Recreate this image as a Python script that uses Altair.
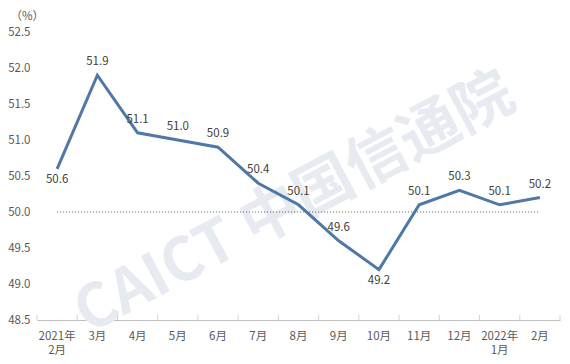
import altair as alt
import pandas as pd

months = ["2021年\n2月", "3月", "4月", "5月", "6月", "7月", "8月", "9月",
          "10月", "11月", "12月", "2022年\n1月", "2月"]
values = [50.6, 51.9, 51.1, 51.0, 50.9, 50.4, 50.1, 49.6, 49.2, 50.1, 50.3, 50.1, 50.2]
y_ticks = [48.5, 49.0, 49.5, 50.0, 50.5, 51.0, 51.5, 52.0, 52.5]
threshold = 50.0

df = pd.DataFrame({"month": months, "value": values})
below_months = [months[0], months[8]]

FONT = "Noto Sans CJK SC"
LINE = "#4f77a7"
TXT = "#404040"
AX = "#595959"

xscale = alt.Scale(type="band", domain=months, paddingInner=0, paddingOuter=0)
yscale = alt.Scale(domain=[48.5, 52.5], nice=False, zero=False)

x_axis = alt.Axis(title=None, labelAngle=0, ticks=False,
                  domainColor="#bfbfbf", labelColor=AX, labelFont=FONT,
                  labelFontSize=11.5, labelPadding=10, labelLineHeight=14,
                  labelBaseline="top", labelOverlap=False,
                  labelExpr="split(datum.label, '\\n')", grid=False)
y_axis = alt.Axis(values=y_ticks, format=".1f", domain=False, ticks=False,
                  grid=False, labelColor=AX, labelFont=FONT, labelFontSize=11.5,
                  labelPadding=7, labelOverlap=False, labelFlush=False,
                  title="（%）", titleAngle=0, titleAlign="left",
                  titleX=-27, titleY=-16, titleBaseline="middle",
                  titleFont=FONT, titleFontSize=11.5, titleFontWeight="normal",
                  titleColor=AX)


def X(band=None):
    if band is None:
        return alt.X("month:N", scale=xscale, sort=months, axis=x_axis)
    return alt.X("month:N", scale=xscale, sort=months, axis=x_axis, bandPosition=band)


def Yf():
    return alt.Y("value:Q", scale=yscale, axis=y_axis)


def Yd(v):
    return alt.YDatum(v, type="quantitative", scale=yscale, axis=y_axis)


base = alt.Chart(df)

watermark = base.transform_filter(alt.datum.month == months[0]).mark_text(
    text="CAICT 中国信通院", angle=332, fontSize=60, fontWeight="bold",
    font=FONT, color="#e7ebf1", align="center", baseline="middle"
).encode(x=alt.value(258), y=alt.value(172))

line = base.mark_line(color=LINE, strokeWidth=3).encode(x=X(), y=Yf())

ref = base.transform_filter(alt.datum.month == months[0]).mark_rule(
    color=AX, strokeWidth=1, strokeDash=[1, 2]
).encode(x=X(), x2=alt.datum(months[-1]), y=Yd(threshold))

ticks = base.mark_tick(color="#bfbfbf", orient="vertical", size=5, thickness=1,
                       yOffset=-2.5).encode(x=X(0), y=Yd(48.5))
last_tick = base.transform_filter(alt.datum.month == months[-1]).mark_tick(
    color="#bfbfbf", orient="vertical", size=5, thickness=1, yOffset=-2.5
).encode(x=X(1), y=Yd(48.5))

lab_above = base.transform_filter(
    ~alt.FieldOneOfPredicate(field="month", oneOf=below_months)
).mark_text(font=FONT, fontSize=11.5, color=TXT, dy=-13, baseline="middle").encode(
    x=X(), y=Yf(), text=alt.Text("value:Q", format=".1f"))
lab_below = base.transform_filter(
    alt.FieldOneOfPredicate(field="month", oneOf=below_months)
).mark_text(font=FONT, fontSize=11.5, color=TXT, dy=11, baseline="middle").encode(
    x=X(), y=Yf(), text=alt.Text("value:Q", format=".1f"))

chart = alt.layer(watermark, ref, ticks, last_tick, line, lab_above, lab_below).properties(
    width=523, height=288,
    padding={"left": 29, "top": 24, "right": 2, "bottom": 40},
    autosize=alt.AutoSizeParams(type="none"),
    background="white",
).configure_view(stroke=None)

chart.save("out.html", embed_options={"renderer": "svg", "actions": False})
